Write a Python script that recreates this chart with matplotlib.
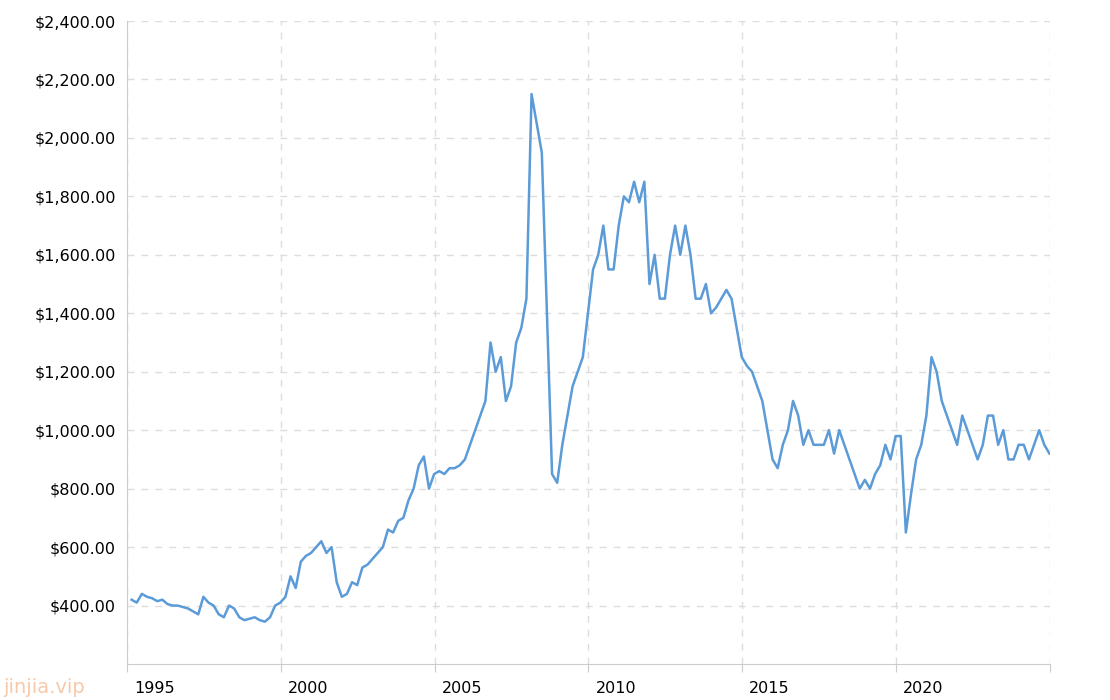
import matplotlib
matplotlib.use("Agg")
import matplotlib.pyplot as plt
import matplotlib.transforms as mt
import numpy as np

# bimonthly estimates, values in $ per ounce
start_year = 1995.15
values = [
    420, 410, 440, 430, 425, 415,      # 1995
    420, 405, 400, 400, 395, 390,      # 1996
    380, 370, 430, 410, 400, 370,      # 1997
    360, 400, 390, 360, 350, 355,      # 1998
    360, 350, 345, 360, 400, 410,      # 1999
    430, 500, 460, 550, 570, 580,      # 2000
    600, 620, 580, 600, 480, 430,      # 2001
    440, 480, 470, 530, 540, 560,      # 2002
    580, 600, 660, 650, 690, 700,      # 2003
    760, 800, 880, 910, 800, 850,      # 2004
    860, 850, 870, 870, 880, 900,      # 2005
    950, 1000, 1050, 1100, 1300, 1200, # 2006
    1250, 1100, 1150, 1300, 1350, 1450,# 2007
    2150, 2050, 1950, 1400, 850, 820,  # 2008
    950, 1050, 1150, 1200, 1250, 1400, # 2009
    1550, 1600, 1700, 1550, 1550, 1700,# 2010
    1800, 1780, 1850, 1780, 1850, 1500,# 2011
    1600, 1450, 1450, 1600, 1700, 1600,# 2012
    1700, 1600, 1450, 1450, 1500, 1400,# 2013
    1420, 1450, 1480, 1450, 1350, 1250,# 2014
    1220, 1200, 1150, 1100, 1000, 900, # 2015
    870, 950, 1000, 1100, 1050, 950,   # 2016
    1000, 950, 950, 950, 1000, 920,    # 2017
    1000, 950, 900, 850, 800, 830,     # 2018
    800, 850, 880, 950, 900, 980,      # 2019
    980, 650, 780, 900, 950, 1050,     # 2020
    1250, 1200, 1100, 1050, 1000, 950, # 2021
    1050, 1000, 950, 900, 950, 1050,   # 2022
    1050, 950, 1000, 900, 900, 950,    # 2023
    950, 900, 950, 1000, 950, 920,     # 2024
]
years = start_year + np.arange(len(values)) / 6.0

fig = plt.figure(figsize=(11.1, 7), dpi=100)
ax = fig.add_axes([0.1144, 0.0514, 0.8315, 0.9186])
ax.plot(years, values, color="#5b9bd8", lw=1.8)
ax.set_xlim(1995, 2025)
ax.set_ylim(200, 2400)
ax.set_yticks(range(400, 2401, 200))
ax.set_yticklabels([f"${v:,.2f}" for v in range(400, 2401, 200)], fontsize=11.5)
ax.set_xticks(range(1995, 2026, 5))
ax.set_xticklabels(["1995", "2000", "2005", "2010", "2015", "2020", ""], fontsize=11.5, ha="left")
ax.tick_params(axis="x", length=6, color="#cccccc", pad=6)
ax.tick_params(axis="y", length=0, pad=8)
off = mt.ScaledTranslation(0.07, 0, fig.dpi_scale_trans)
for lab in ax.get_xticklabels():
    lab.set_transform(lab.get_transform() + off)
ax.grid(True, ls=(0, (5, 5)), color="#dddddd", lw=1)
for s in ["top", "right"]:
    ax.spines[s].set_visible(False)
ax.spines["left"].set_color("#cccccc")
ax.spines["bottom"].set_color("#cccccc")
fig.text(0.003, 0.01, "jinjia.vip", color="#f7c9a8", fontsize=14)
fig.savefig("out.png")
